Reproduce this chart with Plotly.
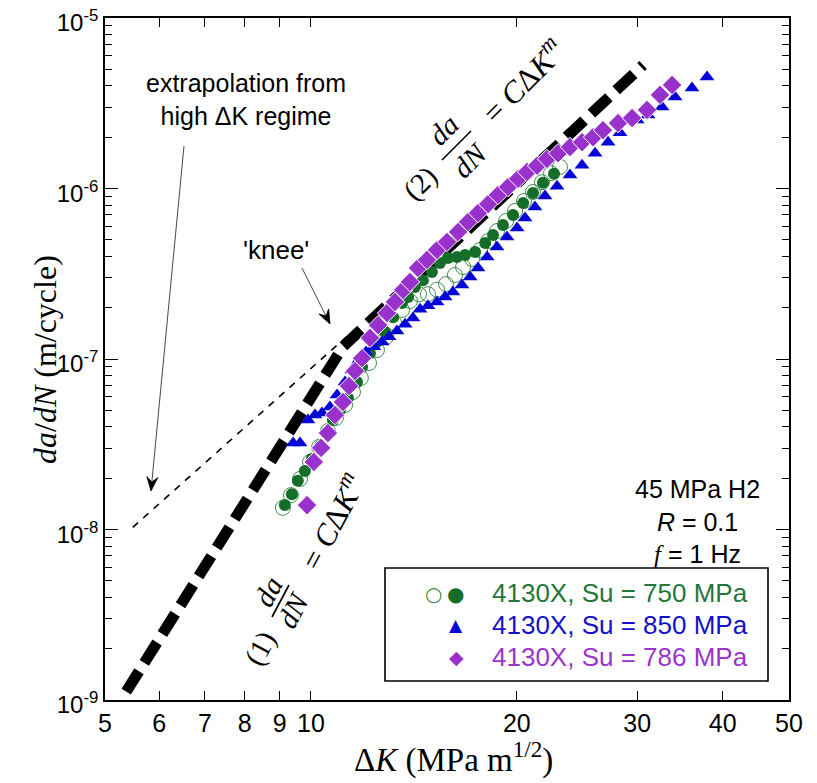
import math
import plotly.graph_objects as go

# ---------------- data ----------------
dk_750_filled = [9.16, 9.38, 9.57, 9.80, 10.03, 10.31, 10.55, 10.77, 11.03, 11.33,
                 11.68, 11.88, 12.20, 12.49, 12.83, 13.19, 13.59, 13.87, 14.19, 14.58,
                 15.03, 15.44, 15.86, 16.35, 16.80, 17.38, 17.98, 18.46, 19.09, 19.75,
                 20.43, 21.12, 21.84, 22.67]
dadn_750_filled = [1.39e-8, 1.61e-8, 1.93e-8, 2.20e-8, 2.59e-8, 3.09e-8, 3.73e-8, 4.39e-8, 5.02e-8, 5.90e-8,
                   7.33e-8, 8.98e-8, 1.08e-7, 1.26e-7, 1.44e-7, 1.76e-7, 2.13e-7, 2.31e-7, 2.64e-7, 2.90e-7,
                   3.24e-7, 3.66e-7, 3.91e-7, 3.96e-7, 4.07e-7, 4.24e-7, 4.79e-7, 5.34e-7, 6.11e-7, 6.99e-7,
                   8.22e-7, 9.41e-7, 1.08e-6, 1.22e-6]

dk_750_open = [9.10, 9.35, 9.64, 9.97, 10.28, 10.59, 10.88, 11.22, 11.52, 11.83,
               12.16, 12.49, 12.88, 13.23, 13.59, 13.96, 14.39, 14.83, 15.29, 15.76,
               16.24, 16.69, 17.20, 17.67, 18.16, 18.71, 19.29, 19.88, 20.49, 21.12,
               21.77, 22.44, 23.13]
dadn_750_open = [1.34e-8, 1.59e-8, 1.98e-8, 2.49e-8, 3.05e-8, 3.78e-8, 4.51e-8, 5.37e-8, 6.40e-8, 7.74e-8,
                 9.47e-8, 1.13e-7, 1.35e-7, 1.63e-7, 1.94e-7, 2.19e-7, 2.40e-7, 2.40e-7, 2.55e-7, 2.75e-7,
                 3.11e-7, 3.46e-7, 3.86e-7, 4.36e-7, 4.92e-7, 5.63e-7, 6.45e-7, 7.38e-7, 8.45e-7, 9.54e-7,
                 1.09e-6, 1.23e-6, 1.34e-6]

dk_850 = [9.42, 9.64, 9.90, 10.14, 10.38, 10.66, 10.92, 11.22, 11.48, 11.75,
          12.04, 12.36, 12.71, 13.01, 13.36, 13.73, 14.10, 14.44, 14.83, 15.29,
          15.71, 16.13, 16.63, 17.09, 17.55, 18.10, 18.71, 19.35, 20.02, 20.56,
          21.26, 21.99, 22.90, 23.92, 24.91, 26.03, 27.19, 28.31, 29.98, 31.11,
          32.61, 34.07, 36.07, 37.94]
dadn_850 = [3.22e-8, 3.22e-8, 4.39e-8, 4.69e-8, 4.82e-8, 5.23e-8, 6.15e-8, 7.33e-8, 8.62e-8, 9.87e-8,
            1.10e-7, 1.18e-7, 1.26e-7, 1.35e-7, 1.46e-7, 1.60e-7, 1.74e-7, 1.96e-7, 2.05e-7, 2.16e-7,
            2.31e-7, 2.47e-7, 2.72e-7, 3.03e-7, 3.42e-7, 3.96e-7, 4.54e-7, 5.19e-7, 5.86e-7, 6.71e-7,
            7.79e-7, 9.04e-7, 1.03e-6, 1.20e-6, 1.37e-6, 1.61e-6, 1.87e-6, 2.12e-6, 2.52e-6, 2.70e-6,
            3.01e-6, 3.44e-6, 3.89e-6, 4.51e-6]

dk_786 = [9.87, 10.10, 10.35, 10.59, 10.84, 11.14, 11.37, 11.60, 11.88, 12.20,
          12.54, 12.92, 13.27, 13.64, 13.96, 14.34, 14.78, 15.29, 15.81, 16.41,
          16.97, 17.55, 18.16, 18.77, 19.42, 20.09, 20.70, 21.41, 22.14, 22.98,
          23.92, 24.91, 25.85, 26.73, 28.12, 29.48, 31.00, 32.39, 33.73]
dadn_786 = [1.39e-8, 2.49e-8, 3.01e-8, 3.68e-8, 4.69e-8, 5.59e-8, 6.94e-8, 8.50e-8, 1.01e-7, 1.33e-7,
            1.58e-7, 1.86e-7, 2.16e-7, 2.54e-7, 2.83e-7, 3.42e-7, 3.81e-7, 4.36e-7, 4.86e-7, 5.56e-7,
            6.36e-7, 7.18e-7, 8.11e-7, 9.16e-7, 1.02e-6, 1.14e-6, 1.25e-6, 1.36e-6, 1.49e-6, 1.61e-6,
            1.75e-6, 1.87e-6, 2.00e-6, 2.20e-6, 2.42e-6, 2.59e-6, 2.89e-6, 3.54e-6, 4.05e-6]

# bilinear power-law fit (1) + (2), and the low-dK extrapolation of (2)
fit_dk = [5.37, 11.14, 30.6]
fit_dadn = [1.12e-9, 1.18e-7, 5.3e-6]
extrap_dk = [5.49, 11.5]
extrap_dadn = [1.03e-8, 1.45e-7]

x_ticks = [5, 6, 7, 8, 9, 10, 20, 30, 40, 50]
x_ticktext = ["5", "6", "7", "8", "9", "10", "20", "30", "40", "50"]
y_ticks = [1e-9, 1e-8, 1e-7, 1e-6, 1e-5]
y_ticktext = ["10<sup>-9</sup>", "10<sup>-8</sup>", "10<sup>-7</sup>", "10<sup>-6</sup>", "10<sup>-5</sup>"]

GREEN = "#146e2a"
GREEN_OPEN = "#3f8f4c"
BLUE = "#0505d8"
PURPLE = "#9932cc"

SANS = "Liberation Sans, Arial, Helvetica, sans-serif"
SERIF = "Liberation Serif, Times New Roman, serif"

# ---------------- figure geometry (page pixels) ----------------
PAGE_W, PAGE_H = 817, 783
OFF = 8                       # default body margin of the html page
W, H = PAGE_W - OFF, PAGE_H - OFF
L, R, T, B = 105, 789, 18, 700   # plot area in page pixels


def px(x):
    return (x - L) / (R - L)


def py(y):
    return (B - y) / (B - T)


fig = go.Figure()

fig.add_trace(go.Scatter(x=extrap_dk, y=extrap_dadn, mode="lines",
                         line=dict(color="black", width=1.6, dash="7px,7px"),
                         showlegend=False, hoverinfo="skip"))
fig.add_trace(go.Scatter(x=fit_dk, y=fit_dadn, mode="lines",
                         line=dict(color="black", width=11, dash="24px,10px"),
                         showlegend=False, hoverinfo="skip"))

fig.add_trace(go.Scatter(x=dk_750_open, y=dadn_750_open, mode="markers",
                         marker=dict(symbol="circle-open", size=15, color=GREEN_OPEN,
                                     line=dict(width=1, color=GREEN_OPEN)),
                         showlegend=False))
fig.add_trace(go.Scatter(x=dk_750_filled, y=dadn_750_filled, mode="markers",
                         marker=dict(symbol="circle", size=12, color=GREEN),
                         showlegend=False))
fig.add_trace(go.Scatter(x=dk_850, y=dadn_850, mode="markers",
                         marker=dict(symbol="triangle-up", size=13, color=BLUE),
                         showlegend=False))
fig.add_trace(go.Scatter(x=dk_786, y=dadn_786, mode="markers",
                         marker=dict(symbol="diamond", size=15, color=PURPLE,
                                     line=dict(width=1, color="white")),
                         showlegend=False))

ann = []


def add_text(x, y, text, size=24, family=SANS, color="black", angle=0, xanchor="center"):
    ann.append(dict(x=px(x), y=py(y), xref="paper", yref="paper", text=text,
                    showarrow=False, xanchor=xanchor, yanchor="middle",
                    textangle=angle, font=dict(size=size, family=family, color=color)))


# axis titles
add_text(45, 360, "<i>da</i>/<i>dN</i> (m/cycle)", size=32, family=SERIF, angle=-90)
add_text(453, 757, "Δ<i>K</i> (MPa m<sup>1/2</sup>)", size=33, family=SERIF)

# text annotations
add_text(246, 99, "extrapolation from<br>high ΔK regime", size=25)
add_text(276, 250, "'knee'", size=26)
add_text(697, 521, "45 MPa H2<br><i>R</i> = 0.1<br>"
         "<span style='font-family:Liberation Serif'><i>f</i></span> = 1 Hz", size=25)

# equation (2)
A2 = -45
add_text(420, 183, "(2)", size=29, family=SERIF, angle=A2)
add_text(443, 130, "<i>da</i>", size=29, family=SERIF, angle=A2)
add_text(470, 160, "<i>dN</i>", size=29, family=SERIF, angle=A2)
add_text(522, 80, "= <i>C</i>Δ<i>K</i><sup><i>m</i></sup>", size=31, family=SERIF, angle=A2)
# equation (1)
A1 = -62
add_text(260, 648, "(1)", size=29, family=SERIF, angle=A1)
add_text(268, 592, "<i>da</i>", size=29, family=SERIF, angle=A1)
add_text(293, 610, "<i>dN</i>", size=29, family=SERIF, angle=A1)
add_text(331, 521, "= <i>C</i>Δ<i>K</i><sup><i>m</i></sup>", size=31, family=SERIF, angle=A1)

# legend (drawn manually)
add_text(433, 594, "○", size=20, family="DejaVu Sans", color=GREEN_OPEN)
add_text(455, 594, "●", size=20, family="DejaVu Sans", color=GREEN)
add_text(456, 625, "▲", size=17, family="DejaVu Sans", color=BLUE)
add_text(456, 657, "◆", size=19, family="DejaVu Sans", color=PURPLE)
add_text(490, 593, "4130X, Su = 750 MPa", size=26, color="#23773a", xanchor="left")
add_text(490, 625, "4130X, Su = 850 MPa", size=26, color="#1212c8", xanchor="left")
add_text(490, 657, "4130X, Su = 786 MPa", size=26, color="#9b35c9", xanchor="left")


def arrow_shapes(tail, tip, head_len=14, half_w=5.5, notch=9, color="#333333"):
    dx, dy = tip[0] - tail[0], tip[1] - tail[1]
    n = math.hypot(dx, dy)
    ux, uy = dx / n, dy / n
    nx, ny = -uy, ux
    p2 = (tip[0] - head_len * ux + half_w * nx, tip[1] - head_len * uy + half_w * ny)
    p3 = (tip[0] - notch * ux, tip[1] - notch * uy)
    p4 = (tip[0] - head_len * ux - half_w * nx, tip[1] - head_len * uy - half_w * ny)
    pts = [tip, p2, p3, p4]
    path = "M " + " L ".join(f"{px(a):.5f},{py(b):.5f}" for a, b in pts) + " Z"
    return [
        dict(type="line", xref="paper", yref="paper", x0=px(tail[0]), y0=py(tail[1]),
             x1=px(p3[0]), y1=py(p3[1]), line=dict(color=color, width=0.9)),
        dict(type="path", xref="paper", yref="paper", path=path,
             fillcolor="black", line=dict(color="black", width=0.8)),
    ]


shapes = [
    # fraction bars
    dict(type="line", xref="paper", yref="paper", layer="above",
         x0=px(442), y0=py(160), x1=px(471), y1=py(131), line=dict(color="black", width=1.6)),
    dict(type="line", xref="paper", yref="paper", layer="above",
         x0=px(272), y0=py(617), x1=px(289), y1=py(585), line=dict(color="black", width=1.6)),
    # legend box
    dict(type="rect", xref="paper", yref="paper",
         x0=px(385), y0=py(681), x1=px(768), y1=py(568),
         line=dict(color="black", width=1.6), fillcolor="rgba(0,0,0,0)"),
]
shapes += arrow_shapes((184, 146), (151, 491))
shapes += arrow_shapes((302, 268), (330, 324))

axis_common = dict(showline=True, linecolor="black", linewidth=1.6, mirror="ticks",
                   ticks="inside", tickcolor="black", tickwidth=1.3, showgrid=False,
                   zeroline=False, ticklabeloverflow="allow")

fig.update_layout(
    width=W, height=H,
    margin=dict(l=L - OFF, r=PAGE_W - R, t=T - OFF, b=PAGE_H - B, autoexpand=False),
    paper_bgcolor="white", plot_bgcolor="white",
    showlegend=False,
    annotations=ann, shapes=shapes,
    xaxis=dict(type="log", range=[0.69897, 1.69897], tickvals=x_ticks, ticktext=x_ticktext,
               ticklen=9, tickfont=dict(family=SANS, size=25, color="black"), **axis_common),
    yaxis=dict(type="log", range=[-9.0001, -4.9999], tickvals=y_ticks, ticktext=y_ticktext,
               ticklen=13, ticklabelshift=5,
               tickfont=dict(family=SANS, size=24, color="black"),
               minor=dict(dtick="D1", ticks="inside", ticklen=7, tickcolor="black", tickwidth=1.1),
               **axis_common),
)

fig.write_html("out.html")
